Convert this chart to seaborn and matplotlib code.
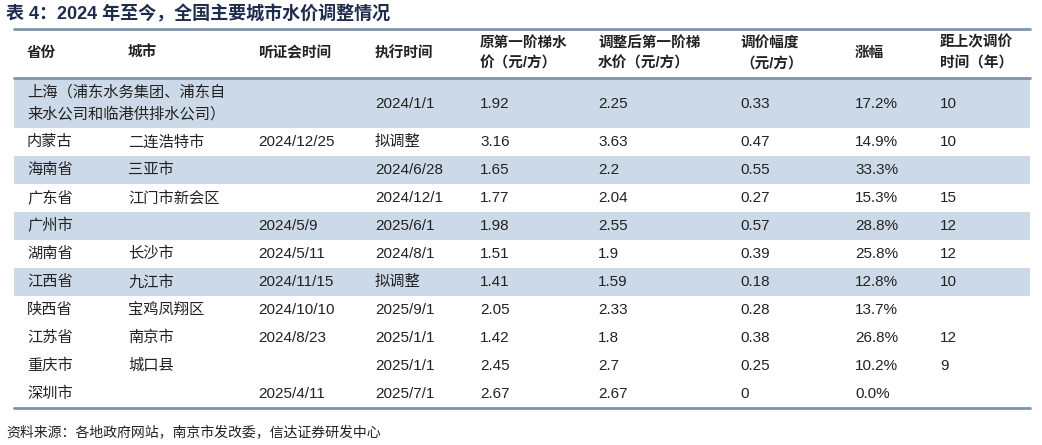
import matplotlib.pyplot as plt
import seaborn as sns

sns.set_theme(style="white")
plt.rcParams['font.family'] = ['Liberation Sans', 'Noto Sans CJK SC', 'DejaVu Sans']

title = "表 4：2024 年至今，全国主要城市水价调整情况"
source = "资料来源：各地政府网站，南京市发改委，信达证券研发中心"
headers = ["省份", "城市", "听证会时间", "执行时间", "原第一阶梯水\n价（元/方）",
           "调整后第一阶梯\n水价（元/方）", "调价幅度\n（元/方）", "涨幅", "距上次调价\n时间（年）"]
provinces = ["上海（浦东水务集团、浦东自\n来水公司和临港供排水公司）", "内蒙古", "海南省", "广东省", "广州市",
             "湖南省", "江西省", "陕西省", "江苏省", "重庆市", "深圳市"]
cities = ["", "二连浩特市", "三亚市", "江门市新会区", "", "长沙市", "九江市", "宝鸡凤翔区", "南京市", "城口县", ""]
hearing = ["", "2024/12/25", "", "", "2024/5/9", "2024/5/11", "2024/11/15", "2024/10/10", "2024/8/23", "", "2025/4/11"]
execute = ["2024/1/1", "拟调整", "2024/6/28", "2024/12/1", "2025/6/1", "2024/8/1", "拟调整", "2025/9/1",
           "2025/1/1", "2025/1/1", "2025/7/1"]
old_price = ["1.92", "3.16", "1.65", "1.77", "1.98", "1.51", "1.41", "2.05", "1.42", "2.45", "2.67"]
new_price = ["2.25", "3.63", "2.2", "2.04", "2.55", "1.9", "1.59", "2.33", "1.8", "2.7", "2.67"]
change = ["0.33", "0.47", "0.55", "0.27", "0.57", "0.39", "0.18", "0.28", "0.38", "0.25", "0"]
pct = ["17.2%", "14.9%", "33.3%", "15.3%", "28.8%", "25.8%", "12.8%", "13.7%", "26.8%", "10.2%", "0.0%"]
years = ["10", "10", "", "15", "12", "12", "10", "", "12", "9", ""]
shaded = [True, False, True, False, True, False, True, False, False, False, False]

col_x = [27, 128, 258, 375, 480, 598, 740, 855, 940]
columns = [provinces, cities, hearing, execute, old_price, new_price, change, pct, years]

fig = plt.figure(figsize=(10.42, 4.45), dpi=100)
ax = fig.add_axes([0, 0, 1, 1])
ax.set_xlim(0, 1042)
ax.set_ylim(445, 0)
ax.axis("off")

navy = "#1f2d4d"
line_c = "#7f93ad"
fill_c = "#ccd9e8"
ax.text(6, 14, title, fontsize=13, fontweight="bold", color=navy, va="center")

left, right = 14, 1030
ax.plot([left, right], [29, 29], color=line_c, lw=2)
for x, h in zip(col_x, headers):
    ax.text(x, 53, h, fontsize=10.5, fontweight="bold", color="#222222", va="center", linespacing=1.6)
ax.plot([left, right], [78, 78], color=line_c, lw=2)

# Shanghai row is double height, the rest are 28 px
tops = [79] + [128 + 28 * i for i in range(10)]
bots = [128] + [128 + 28 * (i + 1) for i in range(10)]
for r in range(len(provinces)):
    t, b = tops[r], bots[r]
    if shaded[r]:
        ax.fill_between([left, right], t, b, color=fill_c, lw=0)
    yc = (t + b) / 2
    for x, col in zip(col_x, columns):
        ax.text(x, yc, col[r], fontsize=11, color="#222222", va="center", linespacing=1.6)
ax.plot([left, right], [bots[-1], bots[-1]], color=line_c, lw=2)

ax.text(6, 432, source, fontsize=10, style="italic", color="#222222", va="center")

fig.savefig("out.png", dpi=100)
